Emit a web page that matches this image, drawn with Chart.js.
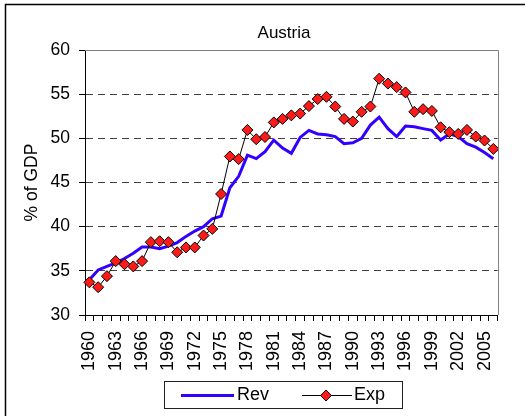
<!DOCTYPE html>
<html>
<head>
<meta charset="utf-8">
<script src="https://cdn.jsdelivr.net/npm/chart.js@4.4.1/dist/chart.umd.min.js"></script>
<style>
  body { margin: 0; background: #fff; }
  canvas { display: block; }
</style>
</head>
<body>
<canvas id="myChart" width="525" height="416"></canvas>
<script>
const years = [
  '1960', '1961', '1962', '1963', '1964', '1965', '1966', '1967', '1968', '1969',
  '1970', '1971', '1972', '1973', '1974', '1975', '1976', '1977', '1978', '1979',
  '1980', '1981', '1982', '1983', '1984', '1985', '1986', '1987', '1988', '1989',
  '1990', '1991', '1992', '1993', '1994', '1995', '1996', '1997', '1998', '1999',
  '2000', '2001', '2002', '2003', '2004', '2005', '2006'
];

// revenue, % of GDP
const rev = [
  34.0, 35.1, 35.5, 35.9, 36.4, 37.0, 37.7, 37.7, 37.5, 37.8,
  38.2, 38.9, 39.5, 40.0, 40.9, 41.2, 44.4, 45.7, 48.1, 47.7,
  48.5, 49.8, 48.9, 48.3, 50.1, 50.9, 50.5, 50.4, 50.2, 49.4,
  49.5, 50.0, 51.5, 52.4, 51.1, 50.2, 51.4, 51.3, 51.1, 50.9,
  49.8, 50.5, 50.2, 49.4, 49.0, 48.4, 47.7
];

// expenditure, % of GDP
const exp = [
  33.7, 33.15, 34.4, 36.1, 35.75, 35.5, 36.1, 38.25, 38.35, 38.25,
  37.1, 37.65, 37.65, 39.0, 39.75, 43.7, 47.95, 47.65, 50.95, 49.9,
  50.15, 51.8, 52.2, 52.6, 52.8, 53.65, 54.45, 54.7, 53.6, 52.2,
  51.9, 53.0, 53.6, 56.75, 56.2, 55.8, 55.2, 53.0, 53.3, 53.1,
  51.25, 50.7, 50.5, 50.95, 50.2, 49.75, 48.8
];

const yTicks = [30, 35, 40, 45, 50, 55, 60];

const FONT = "'Liberation Sans', Arial, sans-serif";
const BLUE = '#3300ff';
const RED = '#ff1a1a';

// title, frame and legend the Excel way
const decor = {
  id: 'decor',
  afterDraw(chart) {
    const ctx = chart.ctx;
    const a = chart.chartArea;
    ctx.save();
    // outer frame (top + left visible)
    ctx.strokeStyle = '#000';
    ctx.lineWidth = 1.5;
    ctx.beginPath();
    ctx.moveTo(5.5, 416);
    ctx.lineTo(5.5, 4.5);
    ctx.lineTo(525, 4.5);
    ctx.stroke();

    // plot area border top/right
    ctx.strokeStyle = '#808080';
    ctx.lineWidth = 1;
    ctx.beginPath();
    ctx.moveTo(a.left, Math.round(a.top) + 0.5);
    ctx.lineTo(Math.round(a.right) + 0.5, Math.round(a.top) + 0.5);
    ctx.lineTo(Math.round(a.right) + 0.5, a.bottom);
    ctx.stroke();

    // title
    ctx.fillStyle = '#000';
    ctx.font = '17px ' + FONT;
    ctx.textAlign = 'center';
    ctx.textBaseline = 'alphabetic';
    ctx.fillText('Austria', 284, 38);

    // legend
    ctx.strokeStyle = '#202020';
    ctx.lineWidth = 1;
    ctx.strokeRect(164.5, 381.5, 238, 27);
    ctx.font = '18px ' + FONT;
    ctx.textAlign = 'left';
    ctx.textBaseline = 'middle';

    ctx.strokeStyle = BLUE;
    ctx.lineWidth = 3;
    ctx.beginPath();
    ctx.moveTo(181, 395.5);
    ctx.lineTo(234, 395.5);
    ctx.stroke();
    ctx.fillText('Rev', 237, 395);

    ctx.strokeStyle = '#000';
    ctx.lineWidth = 1;
    ctx.beginPath();
    ctx.moveTo(302, 395.5);
    ctx.lineTo(352, 395.5);
    ctx.stroke();
    ctx.fillStyle = RED;
    ctx.beginPath();
    ctx.moveTo(326, 390);
    ctx.lineTo(331.5, 395.5);
    ctx.lineTo(326, 401);
    ctx.lineTo(320.5, 395.5);
    ctx.closePath();
    ctx.fill();
    ctx.stroke();
    ctx.fillStyle = '#000';
    ctx.fillText('Exp', 354, 395);
    ctx.restore();
  }
};

const ctx = document.getElementById('myChart').getContext('2d');
const chart = new Chart(ctx, {
  type: 'line',
  data: {
    labels: years,
    datasets: [
      {
        label: 'Rev',
        data: rev,
        borderColor: BLUE,
        backgroundColor: BLUE,
        borderWidth: 3,
        pointRadius: 0,
        tension: 0,
        order: 2
      },
      {
        label: 'Exp',
        data: exp,
        borderColor: '#000',
        backgroundColor: RED,
        borderWidth: 1,
        pointStyle: 'rectRot',
        pointRadius: 5.5,
        pointBorderColor: '#000',
        pointBorderWidth: 1,
        pointBackgroundColor: RED,
        tension: 0,
        order: 1
      }
    ]
  },
  options: {
    responsive: false,
    animation: false,
    devicePixelRatio: 1,
    layout: { padding: { top: 50, right: 8, bottom: 41, left: 0 } },
    plugins: {
      legend: { display: false },
      title: { display: false },
      tooltip: { enabled: false }
    },
    scales: {
      x: {
        offset: true,
        grid: {
          offset: true,
          drawOnChartArea: false,
          tickLength: 6,
          tickColor: '#000'
        },
        border: { color: '#000', width: 1 },
        ticks: {
          autoSkip: false,
          minRotation: 90,
          maxRotation: 90,
          padding: 10,
          color: '#000',
          font: { family: FONT, size: 18 },
          callback: (val, i) => (i % 3 === 0 ? years[i] : '')
        },
        afterFit: (s) => { s.height = 60; }
      },
      y: {
        min: yTicks[0],
        max: yTicks[yTicks.length - 1],
        afterBuildTicks: (s) => { s.ticks = yTicks.map((v) => ({ value: v })); },
        ticks: {
          padding: 9,
          color: '#000',
          font: { family: FONT, size: 17.5 }
        },
        grid: {
          color: (c) => (c.tick && (c.tick.value === 30 || c.tick.value === 60) ? 'rgba(0,0,0,0)' : '#404040'),
          tickColor: '#000',
          tickLength: 6,
          lineWidth: 1
        },
        border: { color: '#000', width: 1, dash: [7, 5] },
        title: {
          display: true,
          text: '% of GDP',
          color: '#000',
          font: { family: FONT, size: 17.5 },
          padding: { top: 22, bottom: 0 }
        },
        afterFit: (s) => { s.width = 85; }
      }
    }
  },
  plugins: [decor]
});
</script>
</body>
</html>
